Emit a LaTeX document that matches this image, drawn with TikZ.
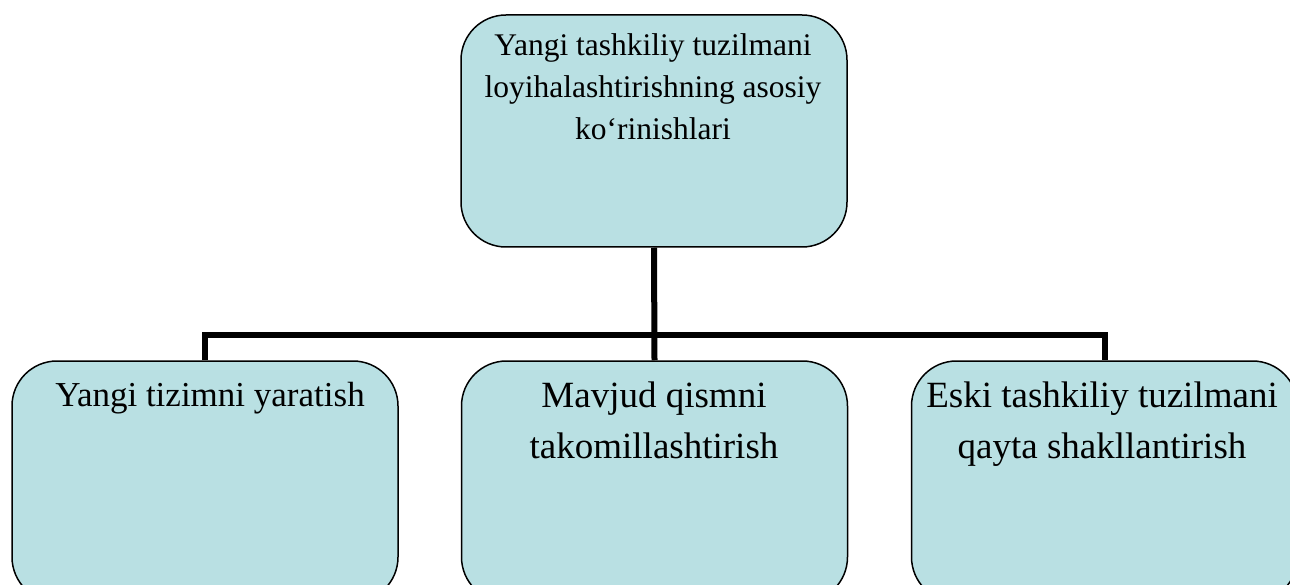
\documentclass[tikz,border=0pt]{standalone}
\usepackage{fontspec}
\setmainfont{Liberation Serif}
\definecolor{boxfill}{HTML}{B9E0E3}
\begin{document}
\begin{tikzpicture}[x=1pt,y=-1pt,
  box/.style={draw=black, line width=1.5pt, fill=boxfill, rounded corners=45pt,
              minimum width=386pt, inner sep=0pt},
  conn/.style={draw=black, line width=6pt, line join=miter},
  toptxt/.style={anchor=north, align=center, inner sep=0pt,
                 font=\fontsize{31.5}{42}\selectfont},
  bottxt/.style={anchor=north, align=center, inner sep=0pt,
                 font=\fontsize{37}{51}\selectfont}]
\clip (0,0) rectangle (1290,585);
% boxes
\node[box, minimum height=232pt] (top) at (654,131) {};
\node[box, minimum height=241pt] (left) at (205,481.5) {};
\node[box, minimum height=241pt] (mid) at (654.5,481.5) {};
\node[box, minimum height=241pt] (right) at (1104.5,481.5) {};
% connectors
\draw[conn] (top.south) -- (mid.north);
\draw[conn] (left.north) -- ++(0,-25) -| (right.north);
% texts
\node[toptxt] (ttop) at (653,33.5) {Yangi tashkiliy tuzilmani\\loyihalashtirishning asosiy\\ko‘rinishlari};
\node[bottxt, font=\fontsize{35}{48}\selectfont] (tleft) at (210,382) {Yangi tizimni yaratish};
\node[bottxt] (tmid) at (654,382) {Mavjud qismni\\takomillashtirish};
\node[bottxt] (tright) at (1102,382) {Eski tashkiliy tuzilmani\\qayta shakllantirish};
\end{tikzpicture}
\end{document}
